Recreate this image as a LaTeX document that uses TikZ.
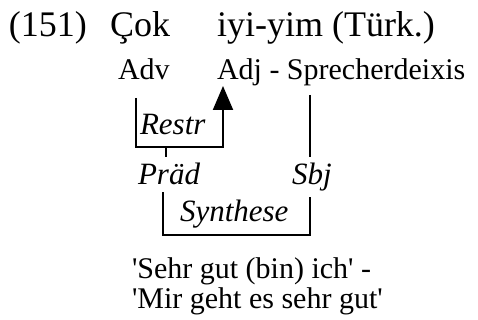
\documentclass[tikz,border=0pt]{standalone}
\usepackage{fontspec}
\setmainfont{Liberation Serif}
\usetikzlibrary{arrows.meta}
\begin{document}
\begin{tikzpicture}[x=1pt,y=-1pt,
  txt/.style={anchor=base west,inner sep=0pt,outer sep=0pt},
  title/.style={txt,font=\fontsize{36}{40}\selectfont},
  gloss/.style={txt,font=\fontsize{30}{30}\selectfont},
  lab/.style={txt,font=\fontsize{31}{31}\selectfont\itshape},
  conn/.style={line width=2pt},
  tip/.style={-{Triangle[width=20pt,length=24pt]}}]
\useasboundingbox (0,0) rectangle (478,320);
% title line
\node[title] (num) at (9,37) {(151)};
\node[title] (cok) at (110,37) {Çok};
\node[title] (iyi) at (217,37) {iyi-yim (Türk.)};
% gloss line
\node[gloss] (adv) at (118,80) {Adv};
\node[gloss] (adj) at (217,80) {Adj - Sprecherdeixis};
% labels
\node[lab] (restr) at (140,135) {Restr};
\node[lab] (praed) at (138,185) {Präd};
\node[lab] (sbj) at (292,185) {Sbj};
\node[lab] (syn) at (180,221) {Synthese};
% translation
\node[gloss] (tr1) at (132,278) {\textquotesingle Sehr gut (bin) ich\textquotesingle{} -};
\node[gloss] (tr2) at (132,308) {\textquotesingle Mir geht es sehr gut\textquotesingle};
% coordinates for connectors
\coordinate (advstem) at (136,98);
\coordinate (restrcorner) at (223,147);
\coordinate (adjtip) at (223,86);
\coordinate (pstemtop) at (166,147);
\coordinate (pstembot) at (166,157);
\coordinate (sprtop) at (310,95);
\coordinate (sprbot) at (310,157);
\coordinate (synL) at (163,192);
\coordinate (synC) at (310,235);
\coordinate (synR) at (310,197);
% connectors
\draw[conn,tip] (advstem) |- (restrcorner) -- (adjtip);
\draw[conn] (pstemtop) -- (pstembot);
\draw[conn] (sprtop) -- (sprbot);
\draw[conn] (synL) |- (synC) -- (synR);
\end{tikzpicture}
\end{document}
